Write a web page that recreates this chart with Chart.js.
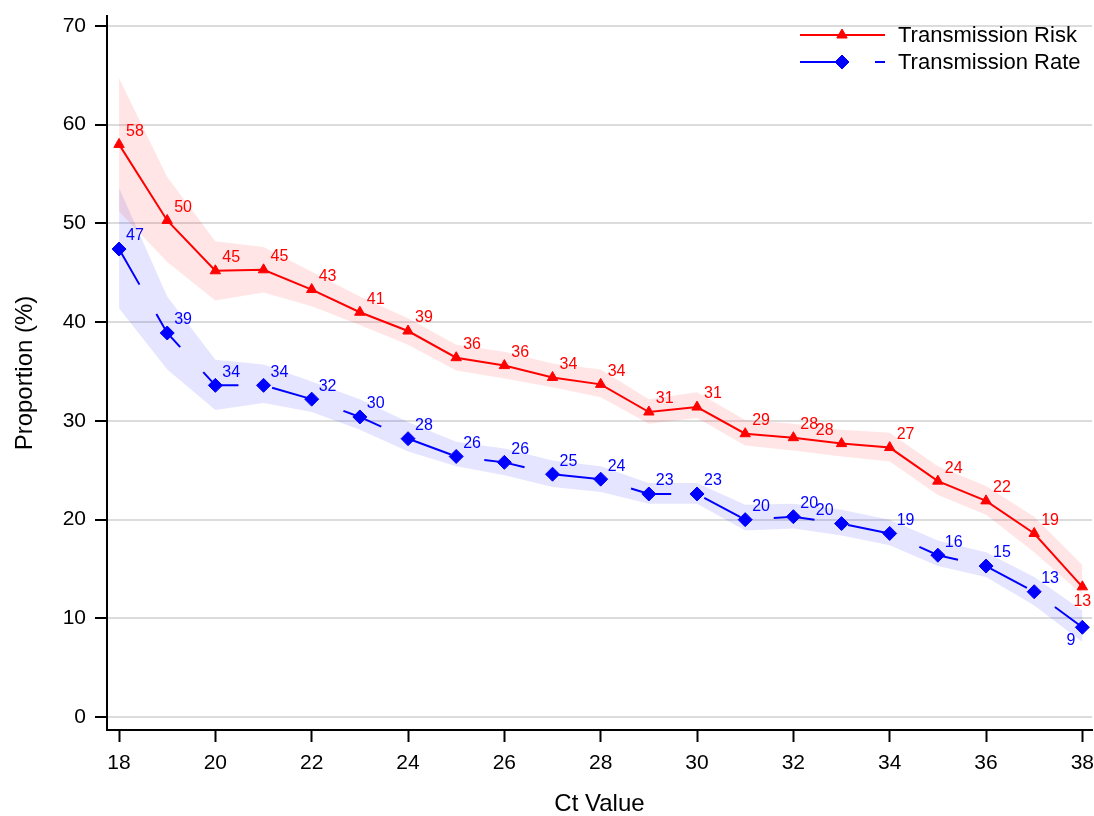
<!DOCTYPE html>
<html>
<head>
<meta charset="utf-8">
<title>Ct Value chart</title>
<script src="https://cdn.jsdelivr.net/npm/chart.js@4/dist/chart.umd.min.js"></script>
<style>
    html, body { margin: 0; padding: 0; background: #ffffff; }
    canvas { display: block; }
</style>
</head>
<body>
<canvas id="meuGrafico" width="1094" height="816"></canvas>
<script>
// dados
var ctValues = [18, 19, 20, 21, 22, 23, 24, 25, 26, 27, 28, 29, 30, 31, 32, 33, 34, 35, 36, 37, 38];

var riskValues = [58.0, 50.3, 45.2, 45.3, 43.3, 41.0, 39.1, 36.4, 35.6, 34.4, 33.7, 30.9, 31.4, 28.7, 28.3, 27.7, 27.3, 23.9, 21.9, 18.6, 13.2];
var riskUpper  = [64.7, 54.7, 48.2, 47.6, 45.1, 42.6, 40.4, 37.7, 37.0, 35.8, 35.2, 32.2, 32.9, 30.1, 29.7, 29.1, 28.8, 25.4, 23.4, 20.3, 15.4];
var riskLower  = [51.2, 46.1, 42.2, 43.0, 41.6, 39.7, 37.7, 35.1, 34.3, 33.4, 32.4, 29.7, 30.3, 27.5, 27.0, 26.4, 25.9, 22.5, 20.5, 16.7, 12.4];

var rateValues = [47.4, 38.9, 33.6, 33.6, 32.2, 30.4, 28.2, 26.4, 25.8, 24.6, 24.1, 22.6, 22.6, 20.0, 20.3, 19.6, 18.6, 16.4, 15.3, 12.7, 9.1];
var rateUpper  = [53.6, 42.6, 36.2, 35.7, 34.0, 32.2, 29.9, 27.9, 27.2, 26.0, 25.4, 23.7, 23.7, 21.5, 21.6, 21.0, 20.0, 17.9, 16.7, 14.2, 10.8];
var rateLower  = [41.4, 35.2, 31.1, 31.8, 30.9, 29.1, 26.9, 25.4, 24.5, 23.3, 22.8, 21.6, 21.6, 18.9, 19.1, 18.4, 17.4, 15.3, 14.2, 11.3, 7.6];

// posição dos rótulos: ur = acima à direita, ul = acima à esquerda, b = abaixo, ll = abaixo à esquerda
var riskLabelPos = ['ur','ur','ur','ur','ur','ur','ur','ur','ur','ur','ur','ur','ur','ur','ur','ul','ur','ur','ur','ur','b'];
var rateLabelPos = ['ur','ur','ur','ur','ur','ur','ur','ur','ur','ur','ur','ur','ur','ur','ur','ul','ur','ur','ur','ur','ll'];

var xTicks = [18, 20, 22, 24, 26, 28, 30, 32, 34, 36, 38];
var yTicks = [0, 10, 20, 30, 40, 50, 60, 70];

var seriesNames = ['Transmission Risk', 'Transmission Rate'];

var RED = '#ff0000';
var BLUE = '#0000ff';
var FONT = "'Liberation Sans', Arial, Helvetica, sans-serif";
var RATE_DASH = [41, 34];

function pontos(valores) {
    return valores.map(function(v, i) {
        return { x: ctValues[i], y: v };
    });
}

function banda(valores, cor, fill) {
    return {
        data: pontos(valores),
        borderWidth: 0,
        borderColor: 'transparent',
        backgroundColor: cor,
        pointRadius: 0,
        fill: fill,
        tension: 0
    };
}

// rótulos com o valor de cada ponto
var rotulosPlugin = {
    id: 'rotulos',
    afterDatasetsDraw: function(chart) {
        var ctx = chart.ctx;
        var series = [
            { idx: 4, valores: riskValues, pos: riskLabelPos, cor: RED },
            { idx: 5, valores: rateValues, pos: rateLabelPos, cor: BLUE }
        ];
        ctx.save();
        ctx.font = '16px ' + FONT;
        ctx.textBaseline = 'middle';
        series.forEach(function(s) {
            var meta = chart.getDatasetMeta(s.idx);
            ctx.fillStyle = s.cor;
            meta.data.forEach(function(pt, i) {
                var txt = String(Math.round(s.valores[i]));
                var p = s.pos[i];
                if (p === 'ul') {
                    ctx.textAlign = 'right';
                    ctx.fillText(txt, pt.x - 8, pt.y - 13);
                } else if (p === 'b') {
                    ctx.textAlign = 'center';
                    ctx.fillText(txt, pt.x, pt.y + 15);
                } else if (p === 'll') {
                    ctx.textAlign = 'right';
                    ctx.fillText(txt, pt.x - 7, pt.y + 13);
                } else {
                    ctx.textAlign = 'left';
                    ctx.fillText(txt, pt.x + 7, pt.y - 13);
                }
            });
        });
        ctx.restore();
    }
};

function desenharMarcador(ctx, estilo, raio, cor, x, y) {
    ctx.fillStyle = cor;
    ctx.strokeStyle = cor;
    ctx.lineWidth = 1;
    ctx.setLineDash([]);
    if (Chart.helpers && Chart.helpers.drawPoint) {
        Chart.helpers.drawPoint(ctx, { pointStyle: estilo, radius: raio, rotation: 0, borderWidth: 1 }, x, y);
        return;
    }
    ctx.beginPath();
    if (estilo === 'triangle') {
        ctx.moveTo(x, y - raio);
        ctx.lineTo(x + raio * 0.866, y + raio / 2);
        ctx.lineTo(x - raio * 0.866, y + raio / 2);
    } else {
        ctx.moveTo(x, y - raio);
        ctx.lineTo(x + raio, y);
        ctx.lineTo(x, y + raio);
        ctx.lineTo(x - raio, y);
    }
    ctx.closePath();
    ctx.fill();
    ctx.stroke();
}

// legenda no canto superior direito
var legendaPlugin = {
    id: 'legendaCustom',
    afterDraw: function(chart) {
        var ctx = chart.ctx;
        var itens = [
            { nome: seriesNames[0], cor: RED, dash: [], estilo: 'triangle', raio: 6, y: 35 },
            { nome: seriesNames[1], cor: BLUE, dash: RATE_DASH, estilo: 'rectRot', raio: 7, y: 62 }
        ];
        ctx.save();
        itens.forEach(function(it) {
            ctx.beginPath();
            ctx.setLineDash(it.dash);
            ctx.strokeStyle = it.cor;
            ctx.lineWidth = 2;
            ctx.moveTo(800, it.y);
            ctx.lineTo(885, it.y);
            ctx.stroke();
            desenharMarcador(ctx, it.estilo, it.raio, it.cor, 842, it.y);
            ctx.setLineDash([]);
            ctx.fillStyle = '#000000';
            ctx.font = '22px ' + FONT;
            ctx.textAlign = 'left';
            ctx.textBaseline = 'middle';
            ctx.fillText(it.nome, 898, it.y + 1);
        });
        ctx.restore();
    }
};

var config = {
    type: 'line',
    data: {
        datasets: [
            banda(riskUpper, 'rgba(255, 0, 0, 0.1)', '+1'),
            banda(riskLower, 'rgba(255, 0, 0, 0.1)', false),
            banda(rateUpper, 'rgba(0, 0, 255, 0.1)', '+1'),
            banda(rateLower, 'rgba(0, 0, 255, 0.1)', false),
            {
                label: seriesNames[0],
                data: pontos(riskValues),
                borderColor: RED,
                backgroundColor: RED,
                borderWidth: 2,
                pointStyle: 'triangle',
                pointRadius: 6,
                pointBorderWidth: 1,
                pointBackgroundColor: RED,
                pointBorderColor: RED,
                fill: false,
                tension: 0
            },
            {
                label: seriesNames[1],
                data: pontos(rateValues),
                borderColor: BLUE,
                backgroundColor: BLUE,
                borderWidth: 2,
                borderDash: RATE_DASH,
                pointStyle: 'rectRot',
                pointRadius: 7,
                pointBorderWidth: 1,
                pointBackgroundColor: BLUE,
                pointBorderColor: BLUE,
                fill: false,
                tension: 0
            }
        ]
    },
    options: {
        responsive: false,
        animation: false,
        devicePixelRatio: 1,
        layout: {
            autoPadding: false,
            padding: { top: 16, right: 2, left: 0, bottom: 0 }
        },
        plugins: {
            legend: { display: false },
            tooltip: { enabled: false },
            title: { display: false }
        },
        scales: {
            x: {
                type: 'linear',
                min: 17.75,
                max: 38.2,
                afterBuildTicks: function(scale) {
                    scale.ticks = xTicks.map(function(v) { return { value: v }; });
                },
                afterFit: function(scale) {
                    scale.height = 86;
                    scale.paddingLeft = 0;
                    scale.paddingRight = 0;
                },
                border: { display: true, color: '#000000', width: 2 },
                grid: {
                    drawOnChartArea: false,
                    drawTicks: true,
                    tickLength: 12,
                    tickWidth: 2,
                    tickColor: '#000000'
                },
                ticks: {
                    color: '#000000',
                    padding: 9,
                    maxRotation: 0,
                    autoSkip: false,
                    font: { family: FONT, size: 21 }
                },
                title: {
                    display: true,
                    text: 'Ct Value',
                    color: '#000000',
                    padding: 0,
                    font: { family: FONT, size: 24, lineHeight: 1 }
                }
            },
            y: {
                type: 'linear',
                min: -1.3,
                max: 71,
                afterBuildTicks: function(scale) {
                    scale.ticks = yTicks.map(function(v) { return { value: v }; });
                },
                afterFit: function(scale) {
                    scale.width = 107;
                    scale.paddingTop = 0;
                    scale.paddingBottom = 0;
                },
                border: { display: true, color: '#000000', width: 2 },
                grid: {
                    color: '#dcdcdc',
                    lineWidth: 2,
                    drawTicks: true,
                    tickLength: 12,
                    tickWidth: 2,
                    tickColor: '#000000'
                },
                ticks: {
                    color: '#000000',
                    padding: 9,
                    autoSkip: false,
                    font: { family: FONT, size: 21 }
                },
                title: {
                    display: true,
                    text: 'Proportion (%)',
                    color: '#000000',
                    padding: { top: 13, bottom: 0 },
                    font: { family: FONT, size: 24, lineHeight: 1 }
                }
            }
        }
    },
    plugins: [rotulosPlugin, legendaPlugin]
};

var ctx = document.getElementById('meuGrafico').getContext('2d');
new Chart(ctx, config);
</script>
</body>
</html>
